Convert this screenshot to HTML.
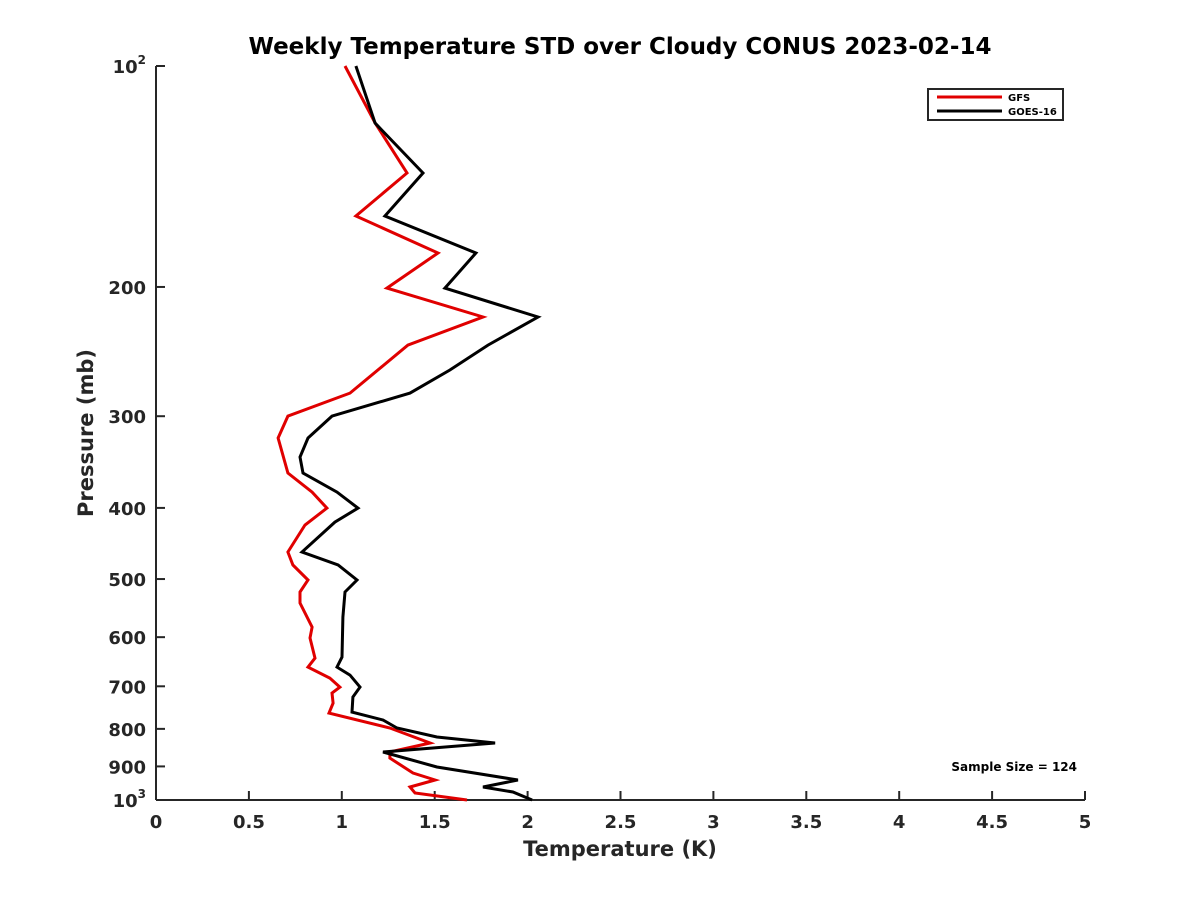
<!DOCTYPE html>
<html><head><meta charset="utf-8"><style>
html,body{margin:0;padding:0;background:#fff;}
svg text{font-family:"DejaVu Sans","Liberation Sans",sans-serif;font-weight:bold;fill:#262626;}
</style></head><body>
<svg id="chart" width="1200" height="900" viewBox="0 0 1200 900" xmlns="http://www.w3.org/2000/svg">
<rect width="1200" height="900" fill="#fff"/>
<text x="620" y="54" text-anchor="middle" font-size="23" style="fill:#000">Weekly Temperature STD over Cloudy CONUS 2023-02-14</text>
<g id="axes"></g>
<g id="series"></g>
<text x="620" y="856" text-anchor="middle" font-size="21">Temperature (K)</text>
<text transform="translate(93,433) rotate(-90)" text-anchor="middle" font-size="21">Pressure (mb)</text>
<g>
<rect x="928" y="89" width="135" height="31" fill="#fff" stroke="#262626" stroke-width="2"/>
<line x1="937" y1="97" x2="1002" y2="97" stroke="#e00000" stroke-width="3"/>
<text x="1008" y="101" font-size="10" style="fill:#000">GFS</text>
<line x1="937" y1="111" x2="1002" y2="111" stroke="#000" stroke-width="3"/>
<text x="1008" y="115" font-size="10" style="fill:#000">GOES-16</text>
</g>
<text x="1077" y="771" text-anchor="end" font-size="12" style="fill:#000">Sample Size = 124</text>
</svg>
<script>
const xTicks = [0,0.5,1,1.5,2,2.5,3,3.5,4,4.5,5];
const xTickLabels = ["0","0.5","1","1.5","2","2.5","3","3.5","4","4.5","5"];
const yTicks = [100,200,300,400,500,600,700,800,900,1000];
const yTickLabels = ["10^2","200","300","400","500","600","700","800","900","10^3"];
const gfsPressure = [100,119.6,139.9,160.1,179.8,200.7,219.8,240,279,299.9,321.2,358.5,380.6,400.2,422,459.3,478.5,501.5,520.8,539.1,581.3,601.6,640.7,659,682.2,701.7,715,737.8,761.3,797.8,836.2,860.3,876.7,918.8,939.3,960.1,978.4,1000];
const gfsTemp = [1.017,1.18,1.351,1.076,1.518,1.243,1.760,1.356,1.044,0.710,0.657,0.710,0.840,0.920,0.802,0.710,0.737,0.818,0.775,0.775,0.840,0.829,0.856,0.818,0.936,0.990,0.947,0.953,0.931,1.259,1.475,1.259,1.259,1.383,1.502,1.367,1.394,1.674];
const goesPressure = [100,119.6,139.9,160.1,179.8,200.7,219.8,240,259.5,279,299.9,321.2,341,358.5,380.6,400.2,418.2,459.3,478.5,501.5,520.8,563.4,638.8,659,675.8,701.7,724,758.9,778,797.8,820.6,836.2,860.3,901.6,939.3,960.1,975.2,1000];
const goesTemp = [1.076,1.179,1.437,1.232,1.722,1.555,2.056,1.787,1.582,1.367,0.947,0.818,0.775,0.791,0.974,1.087,0.963,0.786,0.980,1.082,1.017,1.006,1.001,0.974,1.044,1.098,1.060,1.055,1.222,1.297,1.512,1.825,1.222,1.512,1.948,1.760,1.921,2.024];

const NS="http://www.w3.org/2000/svg";
const X0=156,X1=1085,Y0=66,Y1=800;
function xs(v){return X0+(v-0)/(5-0)*(X1-X0);}
function ys(p){return Y0+(Math.log10(p)-2)*(Y1-Y0);}
const axes=document.getElementById('axes');
function mk(tag,attrs,parent){const e=document.createElementNS(NS,tag);for(const k in attrs)e.setAttribute(k,attrs[k]);parent.appendChild(e);return e;}
let l=mk('line',{x1:X0,y1:Y0,x2:X0,y2:Y1,stroke:'#262626','stroke-width':2},axes);


l=mk('line',{x1:X0,y1:Y1,x2:X1,y2:Y1,stroke:'#262626','stroke-width':2},axes);


xTicks.forEach((v,i)=>{
  const x=xs(v);
  const t=mk('line',{x1:x,y1:Y1,x2:x,y2:Y1-9,stroke:'#262626','stroke-width':2},axes);
  
  
  const tx=mk('text',{x:x,y:Y1+28,'text-anchor':'middle','font-size':18},axes);
  tx.textContent=xTickLabels[i];
  
  
});
yTicks.forEach((v,i)=>{
  const y=ys(v);
  const t=mk('line',{x1:X0,y1:y,x2:X0+9,y2:y,stroke:'#262626','stroke-width':2},axes);
  
  
  const lab=yTickLabels[i];
  if(lab.indexOf('^')>=0){
    const parts=lab.split('^');
    const tx=mk('text',{x:X0-10,y:y+7,'text-anchor':'end','font-size':18},axes);
    
    
    const a=mk('tspan',{},tx);a.textContent=parts[0];
    const b=mk('tspan',{'font-size':12,dy:-9},tx);b.textContent=parts[1];
  } else {
    const tx=mk('text',{x:X0-10,y:y+7,'text-anchor':'end','font-size':18},axes);
    tx.textContent=lab;
    
    
  }
});
const series=document.getElementById('series');
function drawLine(P,T,color,name){
  const pts=P.map((p,i)=>xs(T[i]).toFixed(1)+','+ys(p).toFixed(1)).join(' ');
  const pl=mk('polyline',{points:pts,fill:'none',stroke:color,'stroke-width':3,'stroke-linejoin':'miter'},series);
  
  
}
drawLine(gfsPressure,gfsTemp,'#e00000','gfs-line');
drawLine(goesPressure,goesTemp,'#000000','goes16-line');
</script>
</body></html>
